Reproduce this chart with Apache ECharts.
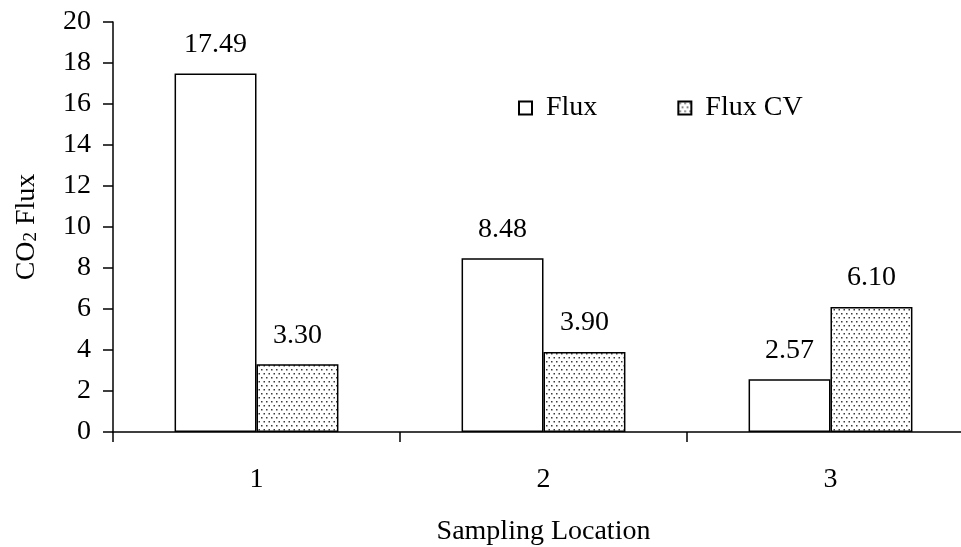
<!DOCTYPE html>
<html>
<head>
<meta charset="utf-8">
<script src="https://cdn.jsdelivr.net/npm/echarts@6/dist/echarts.min.js"></script>
<style>
  html, body { margin: 0; padding: 0; background: #fff; }
  #chart { width: 961px; height: 547px; }
</style>
</head>
<body>
<div id="chart"></div>
<script>
// Sampling locations and the measured values at each
var categories = ['1', '2', '3'];
var fluxValues = [17.49, 8.48, 2.57];
var fluxCvValues = [3.30, 3.90, 6.10];
var seriesNames = ['Flux', 'Flux CV'];

var FONT = '"Liberation Serif", "Times New Roman", serif';
var FS = 28;

// Stippled fill tile for the CV bars
function makeDots() {
  var c = document.createElement('canvas');
  c.width = 5; c.height = 8;
  var g = c.getContext('2d');
  g.fillStyle = '#ffffff';
  g.fillRect(0, 0, 5, 8);
  g.fillStyle = '#3a3a3a';
  g.fillRect(1, 1, 1.5, 1.5);
  g.fillRect(3.5, 5, 1.5, 1.5);
  return c;
}
var dots = makeDots();

var chart = echarts.init(document.getElementById('chart'), null, { renderer: 'canvas' });

var labelStyle = {
  show: true,
  position: 'top',
  distance: 15,
  fontFamily: FONT,
  fontSize: FS,
  color: '#000',
  formatter: function (p) { return p.value.toFixed(2); }
};

chart.setOption({
  animation: false,
  backgroundColor: '#ffffff',
  textStyle: { fontFamily: FONT, color: '#000' },
  legend: {
    left: 513,
    top: 89,
    itemWidth: 13,
    itemHeight: 13,
    itemGap: 80,
    icon: 'rect',
    textStyle: { fontFamily: FONT, fontSize: FS, color: '#000', padding: [0, 0, 0, 9] },
    data: seriesNames
  },
  grid: { left: 113, top: 22, width: 861, bottom: 115, outerBoundsMode: 'none' },
  xAxis: {
    type: 'category',
    data: categories,
    name: 'Sampling Location',
    nameLocation: 'middle',
    nameGap: 86,
    nameTextStyle: { fontFamily: FONT, fontSize: FS, color: '#000' },
    axisLine: { lineStyle: { color: '#000', width: 1.5 } },
    axisTick: { show: true, length: 10, lineStyle: { color: '#000', width: 1.5 } },
    axisLabel: { margin: 34, fontFamily: FONT, fontSize: FS, color: '#000' }
  },
  yAxis: {
    type: 'value',
    min: 0,
    max: 20,
    interval: 2,
    name: '{t|CO}{s|2}{t| Flux}',
    nameLocation: 'middle',
    nameGap: 72,
    nameRotate: 90,
    nameTextStyle: {
      rich: {
        t: { fontFamily: FONT, fontSize: FS, color: '#000', lineHeight: 32, verticalAlign: 'bottom' },
        s: { fontFamily: FONT, fontSize: 19, color: '#000', lineHeight: 30, verticalAlign: 'bottom' }
      }
    },
    axisLine: { show: true, lineStyle: { color: '#000', width: 1.5 } },
    axisTick: { show: true, length: 10, lineStyle: { color: '#000', width: 1.5 } },
    axisLabel: { margin: 22, fontFamily: FONT, fontSize: FS, color: '#000' },
    splitLine: { show: false }
  },
  series: [
    {
      name: seriesNames[0],
      type: 'bar',
      data: fluxValues,
      barGap: '0%',
      barCategoryGap: '42.9%',
      itemStyle: { color: '#ffffff', borderColor: '#000', borderWidth: 1.5 },
      label: labelStyle
    },
    {
      name: seriesNames[1],
      type: 'bar',
      data: fluxCvValues,
      barGap: '0%',
      barCategoryGap: '42.9%',
      itemStyle: { color: { image: dots, repeat: 'repeat' }, borderColor: '#000', borderWidth: 1.5 },
      label: labelStyle
    }
  ]
});
</script>
</body>
</html>
